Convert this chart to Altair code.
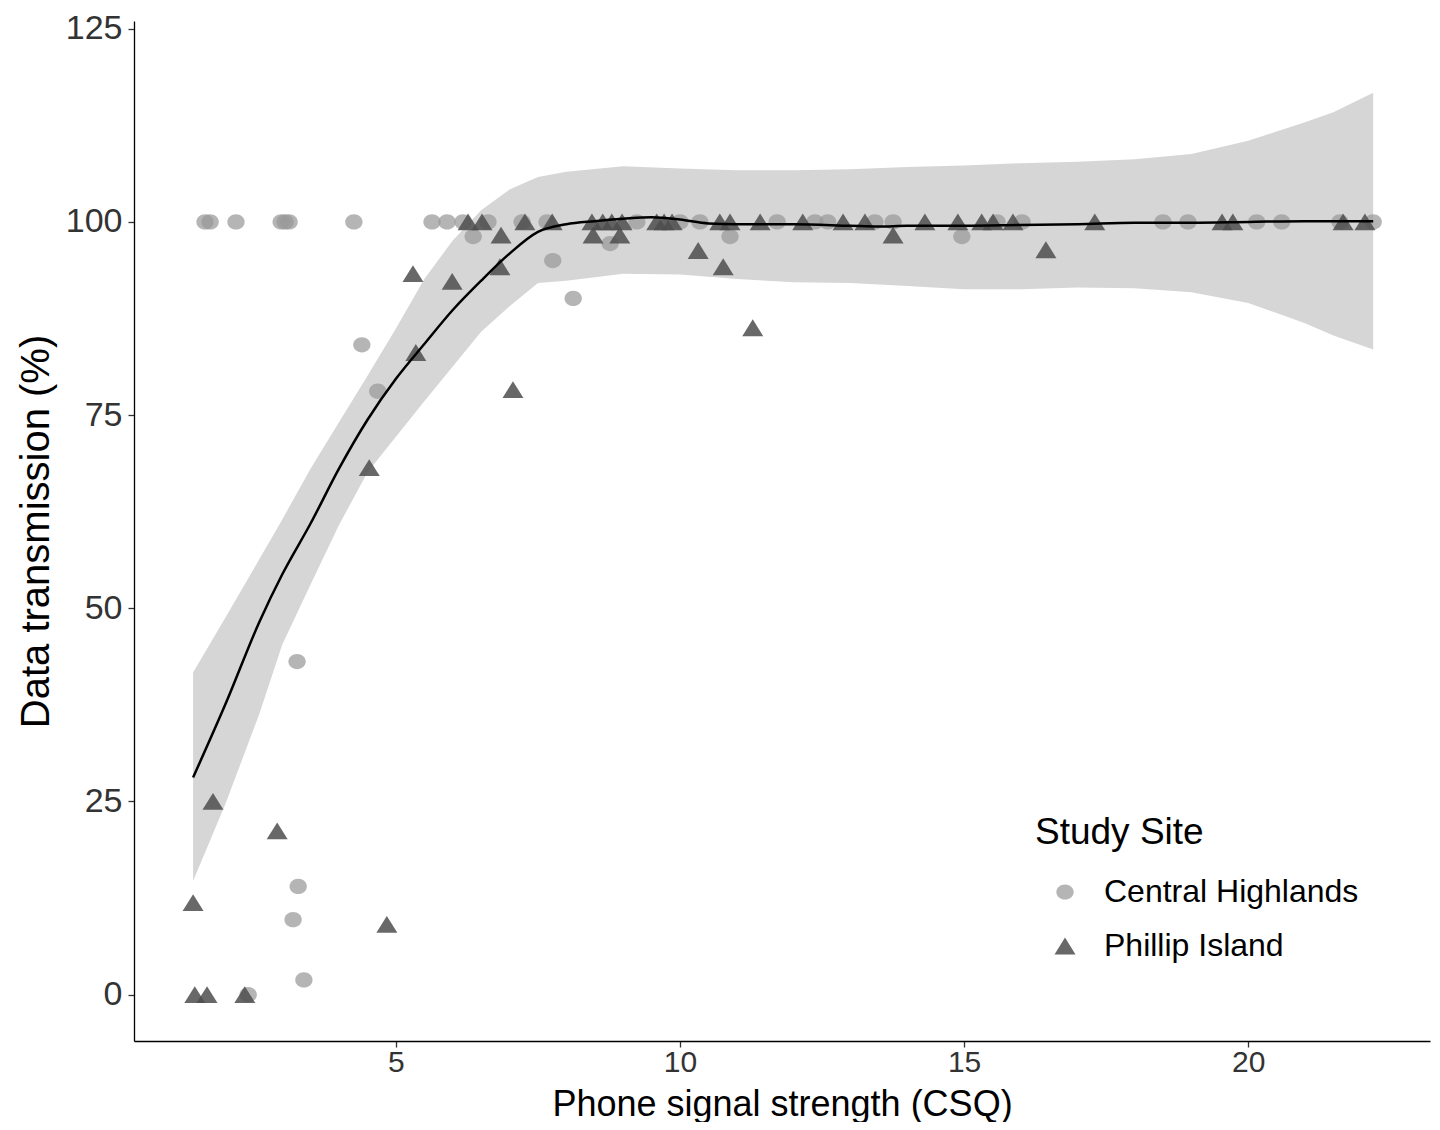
import altair as alt
import pandas as pd

# ---- data ----
ch_x = [1.64, 1.73, 2.185, 2.98, 3.05, 3.12, 4.26, 5.635, 5.90, 6.18, 6.62, 7.22, 7.66,
        9.24, 10.0, 10.35, 11.71, 12.375, 12.60, 13.43, 13.75, 15.58, 16.02, 18.50,
        18.94, 20.15, 20.59, 21.615, 22.20,
        6.36, 7.76, 8.12, 8.77, 10.88, 14.96, 4.40, 4.68, 3.26, 3.28, 3.19, 3.38, 2.40]
ch_y = [100] * 29 + [98.1, 95.0, 90.1, 97.2, 98.1, 98.1, 84.1, 78.1, 43.1, 14.0, 9.7, 1.9, 0]

pi_x = [6.27, 6.515, 7.27, 7.75, 8.45, 8.64, 8.80, 8.98, 9.59, 9.72, 9.86, 10.70, 10.88,
        11.41, 12.16, 12.87, 13.255, 14.31, 14.89, 15.31, 15.51, 15.86, 17.30, 19.54,
        19.73, 21.67, 22.055,
        6.85, 8.47, 8.94, 10.32, 10.76, 11.28, 13.75, 16.44, 5.30, 5.99, 6.83, 7.06,
        5.35, 4.53, 4.84, 2.91, 1.78, 1.43, 1.46, 1.675, 2.34]
pi_y = [100] * 27 + [98.3, 98.3, 98.3, 96.3, 94.2, 86.3, 98.3, 96.4, 93.3, 92.3, 94.2, 78.3,
                     83.1, 68.2, 9.1, 21.2, 25.0, 11.9, 0, 0, 0]

line_x = [1.43, 2.0, 2.6, 3.0, 3.5, 4.0, 4.5, 5.0, 5.5, 6.0, 6.5, 7.0, 7.5, 8.0, 8.5, 9.0,
          9.5, 10.0, 10.5, 11.0, 12.0, 13.0, 13.5, 14.0, 15.0, 16.0, 17.0, 18.0, 19.0,
          20.0, 21.0, 22.2]
line_y = [28.1, 37.6, 48.3, 54.4, 61.0, 68.1, 74.4, 79.7, 84.2, 88.6, 92.4, 95.9, 98.7,
          99.7, 100.1, 100.4, 100.6, 100.3, 99.8, 99.7, 99.7, 99.5, 99.4, 99.5, 99.5,
          99.6, 99.7, 99.9, 99.9, 100.0, 100.1, 100.1]

band_x = [1.43, 2.0, 2.6, 3.0, 3.5, 4.0, 4.5, 5.0, 5.5, 6.0, 6.5, 7.0, 7.5, 8.0, 9.0, 10.0,
          11.0, 12.0, 13.0, 14.0, 15.0, 16.0, 17.0, 18.0, 19.0, 20.0, 20.5, 21.0, 21.5, 22.2]
band_hi = [41.7, 48.8, 56.4, 61.5, 68.1, 74.1, 80.1, 86.2, 92.6, 97.6, 101.5, 104.2, 105.8,
           106.5, 107.2, 106.9, 106.7, 106.7, 106.8, 107.1, 107.3, 107.6, 107.8, 108.1,
           108.8, 110.5, 111.7, 112.9, 114.2, 116.7]
band_lo = [14.7, 24.7, 36.4, 45.3, 53.1, 60.8, 67.6, 72.2, 76.8, 81.3, 85.8, 89.1, 92.1,
           92.4, 93.3, 93.2, 92.6, 92.2, 92.1, 91.7, 91.3, 91.3, 91.5, 91.4, 90.9, 89.5,
           88.2, 86.9, 85.3, 83.5]

sites = ["Central Highlands", "Phillip Island"]
x_ticks = [5, 10, 15, 20]
y_ticks = [0, 25, 50, 75, 100, 125]

pts = pd.DataFrame({
    "x": ch_x + pi_x,
    "y": ch_y + pi_y,
    "site": [sites[0]] * len(ch_x) + [sites[1]] * len(pi_x),
})
line_df = pd.DataFrame({"x": line_x, "y": line_y})
band_df = pd.DataFrame({"x": band_x, "lo": band_lo, "hi": band_hi})

ellipse = ("M-1,0C-1,-0.486,-0.552,-0.88,0,-0.88C0.552,-0.88,1,-0.486,1,0"
           "C1,0.486,0.552,0.88,0,0.88C-0.552,0.88,-1,0.486,-1,0Z")
triangle = "M-1,0.8L1,0.8L0,-0.8Z"

xs = alt.Scale(domain=[0.39, 23.2], nice=False, zero=False)
ys = alt.Scale(domain=[-6, 126], nice=False, zero=False)

x_axis = alt.Axis(values=x_ticks, format="d", title="Phone signal strength (CSQ)", grid=False,
                  titleBaseline="alphabetic", titleY=74, titleFontSize=36,
                  labelFontSize=30, labelPadding=0)
y_axis = alt.Axis(values=y_ticks, format="d", title="Data transmission (%)", grid=False,
                  titlePadding=9, labelFontSize=34)

band = alt.Chart(band_df).mark_area(color="#d6d6d6", opacity=1).encode(
    x=alt.X("x:Q", scale=xs, axis=x_axis),
    y=alt.Y("lo:Q", scale=ys, axis=y_axis),
    y2="hi:Q",
)

points = alt.Chart(pts).mark_point(filled=True, strokeWidth=0).encode(
    x=alt.X("x:Q", scale=xs),
    y=alt.Y("y:Q", scale=ys),
    shape=alt.Shape("site:N", scale=alt.Scale(domain=sites, range=[ellipse, triangle]),
                    legend=alt.Legend(title="Study Site")),
    color=alt.Color("site:N", scale=alt.Scale(domain=sites, range=["#999999", "#4d4d4d"]),
                    legend=alt.Legend(title="Study Site")),
    opacity=alt.Opacity("site:N", scale=alt.Scale(domain=sites, range=[0.72, 0.85]),
                        legend=None),
    size=alt.Size("site:N", scale=alt.Scale(domain=sites, range=[300, 441]), legend=None),
)

line = alt.Chart(line_df).mark_line(color="black", strokeWidth=2.5, interpolate="monotone").encode(
    x=alt.X("x:Q", scale=xs),
    y=alt.Y("y:Q", scale=ys),
)

chart = alt.layer(band, points, line).properties(
    width=1296,
    height=1020,
    autosize=alt.AutoSizeParams(type="none"),
    padding={"left": 126, "top": 13, "right": 2, "bottom": 81},
).configure_view(stroke=None).configure_axis(
    labelFont="Liberation Sans",
    titleFont="Liberation Sans",
    labelFontSize=36,
    titleFontSize=40,
    labelColor="#333333",
    titleColor="black",
    titleFontWeight="normal",
    domainColor="black",
    domainWidth=1.3,
    tickColor="#333333",
    tickSize=6,
    tickWidth=1.3,
    labelPadding=6,
).configure_legend(
    orient="none",
    legendX=901,
    legendY=794,
    titleFont="Liberation Sans",
    labelFont="Liberation Sans",
    titleFontSize=37,
    titleFontWeight="normal",
    titleColor="black",
    labelFontSize=32,
    labelColor="black",
    labelLimit=500,
    symbolSize=144,
    symbolOffset=14,
    symbolStrokeWidth=0,
    symbolOpacity=0.8,
    labelOffset=23,
    rowPadding=22,
    titlePadding=24,
    padding=0,
)

chart.save("out.html", embed_options={"renderer": "svg", "actions": False})
